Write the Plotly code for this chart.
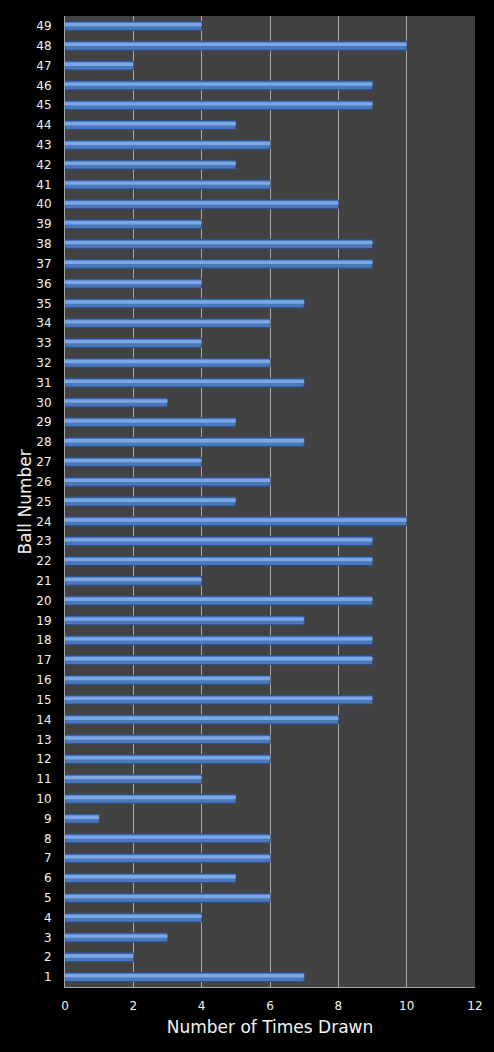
import plotly.graph_objects as go

balls = [str(i) for i in range(1, 50)]
times_drawn = [7, 2, 3, 4, 6, 5, 6, 6, 1, 5,
               4, 6, 6, 8, 9, 6, 9, 9, 7, 9,
               4, 9, 9, 10, 5, 6, 4, 7, 5, 3,
               7, 6, 4, 6, 7, 4, 9, 9, 4, 8,
               6, 5, 6, 5, 9, 9, 2, 10, 4]
x_ticks = [0, 2, 4, 6, 8, 10, 12]

fig = go.Figure()
fig.add_trace(go.Bar(
    y=balls, x=times_drawn, orientation="h", width=0.45, offset=-0.225,
    marker=dict(color="#4a78ba", line=dict(color="#2c4f86", width=1)),
    hoverinfo="x+y", showlegend=False,
))
fig.add_trace(go.Bar(
    y=balls, x=times_drawn, orientation="h", width=0.17, offset=-0.02,
    marker=dict(color="#7ba7e6", line=dict(width=0)),
    hoverinfo="skip", showlegend=False,
))
fig.add_annotation(
    text="Ball Number", textangle=-90, xref="paper", yref="paper",
    x=-0.0976, y=0.5, xanchor="center", yanchor="middle", showarrow=False,
    font=dict(size=17, color="#f2f2f2"),
)
fig.update_layout(
    width=494, height=1052,
    margin=dict(l=65, r=19, t=16, b=65),
    paper_bgcolor="black", plot_bgcolor="#424242",
    barmode="overlay",
    font=dict(family="DejaVu Sans", color="#f2f2f2", size=12),
    xaxis=dict(range=[0, 12], tickvals=x_ticks, showgrid=True,
               gridcolor="#a8a8a8", gridwidth=1, zeroline=False,
               showline=True, linecolor="#a8a8a8", linewidth=1,
               ticks="", ticklabelstandoff=8, automargin=False,
               title=dict(text="Number of Times Drawn", font=dict(size=17), standoff=8),
               fixedrange=True),
    yaxis=dict(type="category", categoryorder="array", categoryarray=balls,
               range=[-0.5, 48.5], showgrid=False, zeroline=False,
               showline=True, linecolor="#a8a8a8", linewidth=1,
               ticks="", ticklabelstandoff=10, automargin=False,
               fixedrange=True),
)
fig.write_html("out.html")
